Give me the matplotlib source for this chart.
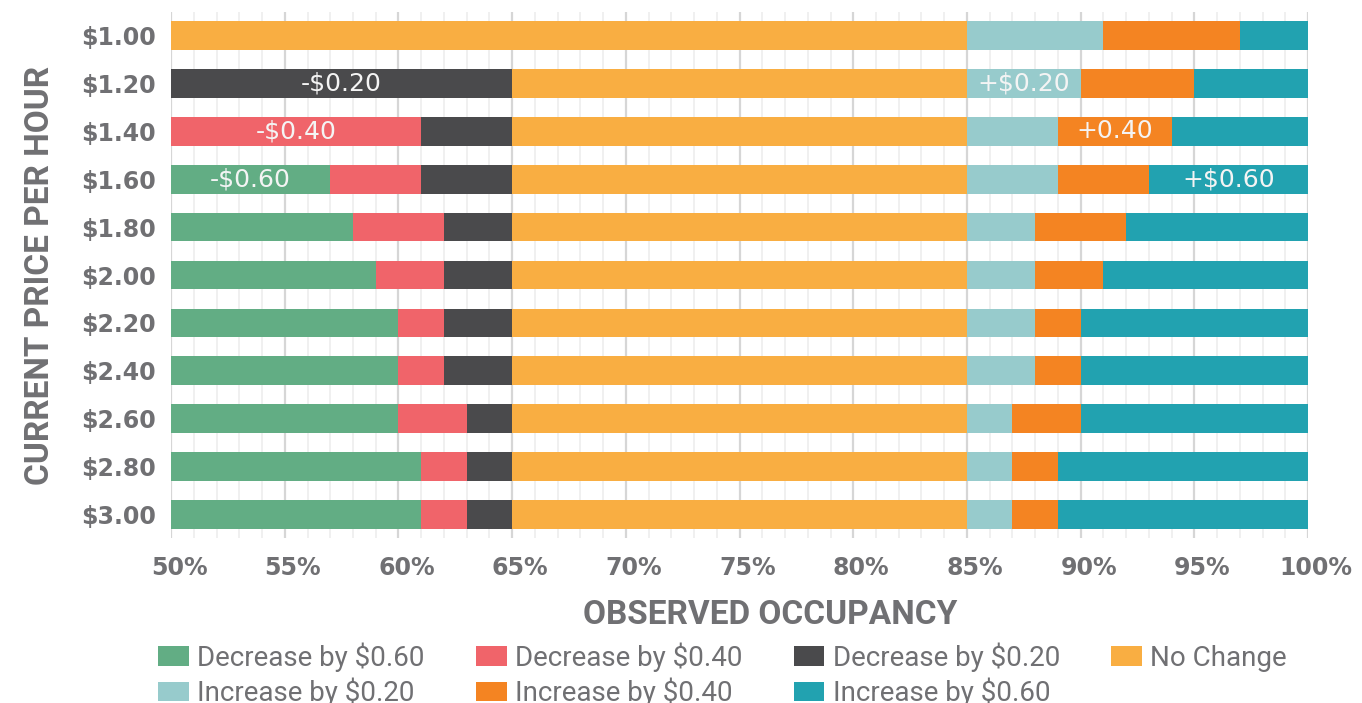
import matplotlib.pyplot as plt
import numpy as np
from matplotlib.ticker import MultipleLocator, FuncFormatter
from matplotlib.transforms import ScaledTranslation
from matplotlib import font_manager

prices = ['$1.00', '$1.20', '$1.40', '$1.60', '$1.80', '$2.00',
          '$2.20', '$2.40', '$2.60', '$2.80', '$3.00']

# widths of each segment, in percentage points, starting at 50%
dec_060 = [0, 0, 0, 7, 8, 9, 10, 10, 10, 11, 11]
dec_040 = [0, 0, 11, 4, 4, 3, 2, 2, 3, 2, 2]
dec_020 = [0, 15, 4, 4, 3, 3, 3, 3, 2, 2, 2]
no_change = [35, 20, 20, 20, 20, 20, 20, 20, 20, 20, 20]
inc_020 = [6, 5, 4, 4, 3, 3, 3, 3, 2, 2, 2]
inc_040 = [6, 5, 5, 4, 4, 3, 2, 2, 3, 2, 2]
inc_060 = [3, 5, 6, 7, 8, 9, 10, 10, 10, 11, 11]

series = [
    ('Decrease by $0.60', dec_060, '#62ad84'),
    ('Decrease by $0.40', dec_040, '#f0646a'),
    ('Decrease by $0.20', dec_020, '#4a4a4c'),
    ('No Change', no_change, '#f9ae42'),
    ('Increase by $0.20', inc_020, '#97cbcc'),
    ('Increase by $0.40', inc_040, '#f48422'),
    ('Increase by $0.60', inc_060, '#22a2b0'),
]

# (row, series index, text)
bar_labels = [(1, 2, '-$0.20'), (1, 4, '+$0.20'),
              (2, 1, '-$0.40'), (2, 5, '+0.40'),
              (3, 0, '-$0.60'), (3, 6, '+$0.60')]

names = {f.name for f in font_manager.fontManager.ttflist}
narrow = 'Liberation Sans Narrow' if 'Liberation Sans Narrow' in names else 'Roboto'
gray = '#707073'

fig = plt.figure(figsize=(13.62, 7.03), dpi=100)
ax = fig.add_axes([0.1256, 0.2347, 0.9604 - 0.1256, 0.9829 - 0.2347])

y = np.arange(len(prices))
left = np.full(len(prices), 50.0)
starts = []
handles = []
for name, vals, col in series:
    vals = np.array(vals, dtype=float)
    h = ax.barh(y, vals, left=left, height=0.6, color=col, label=name, linewidth=0, zorder=3)
    handles.append(h)
    starts.append(left.copy())
    left = left + vals

for row, si, txt in bar_labels:
    w = series[si][1][row]
    ax.text(starts[si][row] + w / 2, row, txt, ha='center', va='center',
            color='#f4f4f4', fontsize=18, family='DejaVu Sans', zorder=4)

ax.set_xlim(50, 100)
ax.set_ylim(len(prices) - 1 + 0.49, -0.49)
ax.set_yticks(y)
ax.set_yticklabels(prices)
ax.xaxis.set_major_locator(MultipleLocator(5))
ax.xaxis.set_minor_locator(MultipleLocator(1))
ax.xaxis.set_major_formatter(FuncFormatter(lambda v, p: f'{v:.0f}%'))
ax.grid(axis='x', which='major', color='#d6d6d6', linewidth=1.6, zorder=0)
ax.grid(axis='x', which='minor', color='#eeeeee', linewidth=1.2, zorder=0)
ax.set_axisbelow(True)
for s in ax.spines.values():
    s.set_visible(False)
ax.tick_params(axis='both', which='both', length=0)
ax.tick_params(axis='x', pad=13)
ax.tick_params(axis='y', pad=11)
shift = ScaledTranslation(8 / 100, 0, fig.dpi_scale_trans)
for lab in ax.get_xticklabels():
    lab.set_transform(lab.get_transform() + shift)
for lab in ax.get_xticklabels() + ax.get_yticklabels():
    lab.set_fontsize(17)
    lab.set_fontweight('bold')
    lab.set_family('DejaVu Sans')
    lab.set_color(gray)

ax.set_xlabel('OBSERVED OCCUPANCY', fontsize=24, fontweight='bold', family=narrow,
              color=gray, labelpad=12)
ax.xaxis.set_label_coords(0.527, -0.116)
ax.set_ylabel('CURRENT PRICE PER HOUR', fontsize=24, fontweight='bold', family=narrow,
              color=gray, labelpad=18)

# legend fills column by column, so reorder to read row by row
order = [0, 4, 1, 5, 2, 6, 3]
leg = fig.legend([handles[i] for i in order], [series[i][0] for i in order],
                 loc='upper left', bbox_to_anchor=(0.108, 0.102), ncol=4, frameon=False,
                 prop={'family': narrow, 'size': 20}, handlelength=1.1, handleheight=0.7,
                 handletextpad=0.3, columnspacing=1.85, labelspacing=0.2,
                 borderaxespad=0)
for t in leg.get_texts():
    t.set_color(gray)

fig.savefig('out.png', dpi=100)
